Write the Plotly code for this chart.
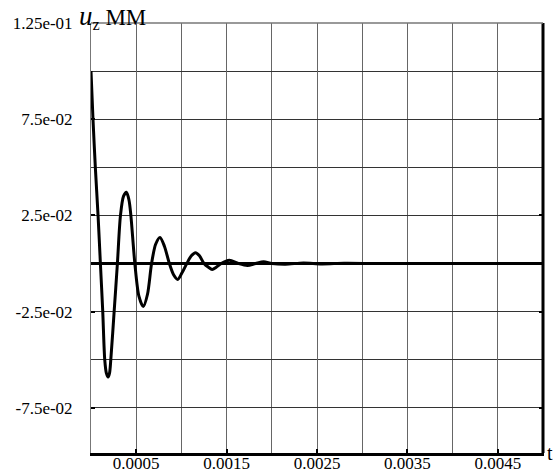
import plotly.graph_objects as go

# Data
t_vals = [0, 0.000022, 0.000048, 0.000078, 0.000104, 0.000130, 0.000152, 0.000170,
          0.000189, 0.000205, 0.000219, 0.000256, 0.000292, 0.000326, 0.000360,
          0.000392, 0.000420, 0.000441, 0.000485, 0.000530, 0.000578, 0.000625,
          0.000670, 0.000715, 0.000763, 0.000812, 0.000867, 0.000915, 0.000959,
          0.001005, 0.001060, 0.001110, 0.001156, 0.001200, 0.001250, 0.001300,
          0.001340, 0.001385, 0.001440, 0.001530, 0.001630, 0.001730, 0.001820,
          0.001910, 0.002000, 0.002150, 0.002350, 0.002550, 0.002800, 0.003200, 0.005]
u_vals = [0.100, 0.075, 0.050, 0.025, 0.000, -0.025, -0.050, -0.057,
          -0.059, -0.057, -0.050, -0.025, 0.000, 0.025, 0.035,
          0.037, 0.033, 0.025, 0.000, -0.017, -0.0224, -0.016,
          0.000, 0.010, 0.0135, 0.009, 0.000, -0.006, -0.0083,
          -0.005, 0.000, 0.004, 0.0056, 0.004, 0.000, -0.002,
          -0.0031, -0.002, 0.000, 0.0017, 0.000, -0.0010, 0.000,
          0.0009, 0.000, -0.0004, 0.0003, -0.0002, 0.0001, 0.0, 0.0]

x_tickvals = [0.0005, 0.0015, 0.0025, 0.0035, 0.0045]
x_ticktext = ["0.0005", "0.0015", "0.0025", "0.0035", "0.0045"]
y_tickvals = [0.125, 0.075, 0.025, -0.025, -0.075]
y_ticktext = ["1.25e-01", "7.5e-02", "2.5e-02", "-2.5e-02", "-7.5e-02"]

FONT = "Liberation Serif"
FS = 17

fig = go.Figure()
fig.add_trace(go.Scatter(
    x=t_vals, y=u_vals, mode="lines",
    line=dict(color="black", width=3, shape="spline", smoothing=0.8),
    hoverinfo="skip", showlegend=False,
))

fig.update_layout(
    width=555, height=472, autosize=False,
    margin=dict(l=91, r=12, t=23, b=19),
    paper_bgcolor="white", plot_bgcolor="white",
    font=dict(family=FONT, size=FS, color="black"),
    hovermode=False,
    xaxis=dict(
        range=[0, 0.005], tickvals=x_tickvals, ticktext=x_ticktext,
        ticks="inside", ticklen=4, tickwidth=2, tickcolor="black",
        showgrid=True, gridcolor="#666666", gridwidth=1,
        minor=dict(dtick=0.0005, tick0=0, showgrid=True, gridcolor="#666666", gridwidth=1, ticks=""),
        showline=True, linecolor="black", linewidth=3,
        zeroline=False, automargin=False, ticklabelstandoff=-7,
        tickfont=dict(family=FONT, size=FS, color="black"),
    ),
    yaxis=dict(
        range=[-0.0985, 0.125], tickvals=y_tickvals, ticktext=y_ticktext,
        ticks="inside", ticklen=4, tickwidth=2, tickcolor="black",
        showgrid=True, gridcolor="#333333", gridwidth=1,
        minor=dict(dtick=0.025, tick0=0, showgrid=True, gridcolor="#333333", gridwidth=1, ticks=""),
        showline=True, linecolor="#777777", linewidth=1, mirror="ticks",
        zeroline=True, zerolinecolor="black", zerolinewidth=3,
        automargin=False, ticklabelstandoff=14,
        tickfont=dict(family=FONT, size=FS, color="black"),
    ),
    shapes=[
        dict(type="line", xref="paper", yref="paper", x0=1, x1=1, y0=0, y1=1,
             line=dict(color="black", width=3)),
        dict(type="line", xref="paper", yref="paper", x0=0, x1=1, y0=1, y1=1,
             line=dict(color="#777777", width=1.5)),
    ],
    annotations=[
        dict(text="t", xref="paper", yref="paper", x=1, y=0, xanchor="left",
             yanchor="middle", xshift=2, showarrow=False,
             font=dict(family=FONT, size=20, color="black")),
        dict(text="<span style='font-size:27px'><i>u</i></span><sub>z</sub> ММ",
             xref="paper", yref="paper",
             x=-0.031, y=1, xanchor="left", yanchor="bottom", yshift=-12,
             showarrow=False, font=dict(family=FONT, size=23, color="black")),
    ],
)

fig.write_html("out.html", config={"displayModeBar": False},
               post_script="document.body.style.margin='0';document.body.style.overflow='hidden';")
